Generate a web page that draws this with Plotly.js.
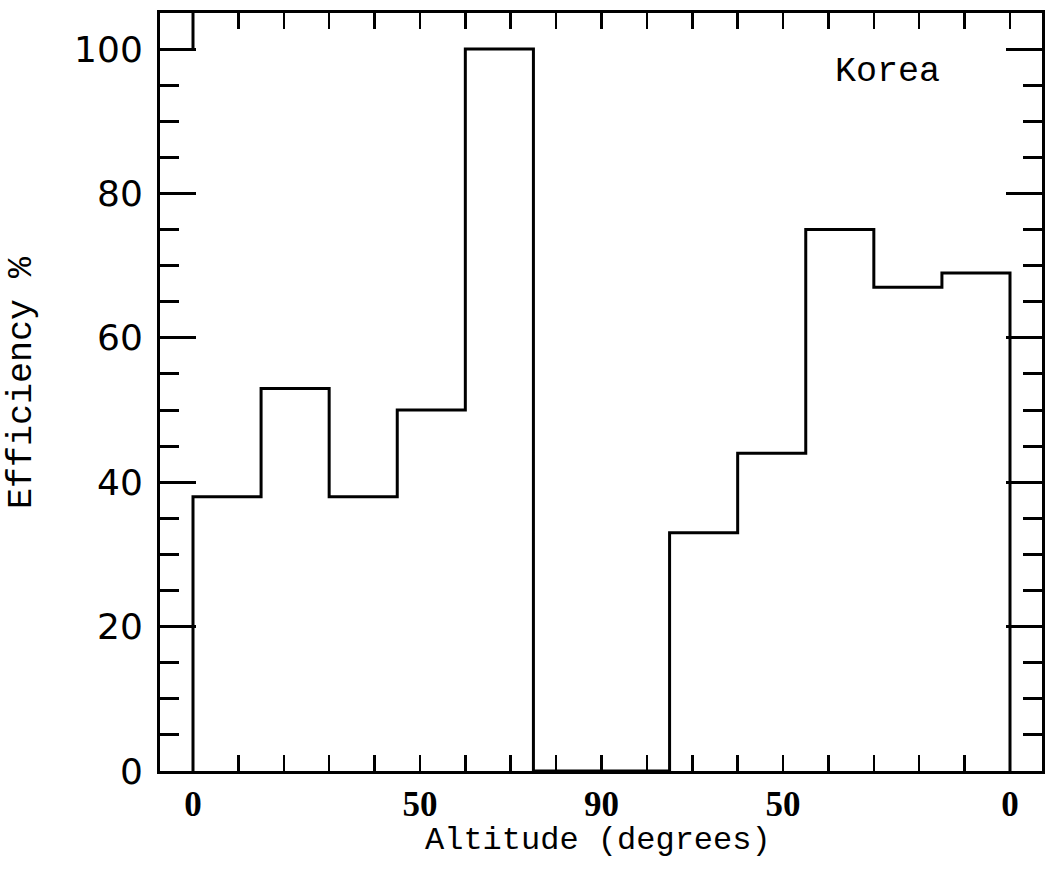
<!DOCTYPE html>
<html><head><meta charset="utf-8">
<script src="https://cdn.plot.ly/plotly-3.0.1.min.js"></script>
<style>html,body{margin:0;padding:0;background:#fff}</style>
</head><body><div id="chart" style="width:1047px;height:870px"></div>
<script>
// Data
const binEdges = [0, 15, 30, 45, 60, 75, 90, 105, 120, 135, 150, 165, 180];
const efficiency = [38, 53, 38, 50, 100, 0, 0, 33, 44, 75, 67, 69];
const tickPositions = [0, 10, 20, 30, 40, 50, 60, 70, 80, 90, 100, 110, 120, 130, 140, 150, 160, 170, 180];
const labelPositions = [0, 50, 90, 130, 180];
const labelTexts = ['0', '50', '90', '50', '0'];
const panelLabel = 'Korea';
const xTitle = 'Altitude (degrees)';
const yTitle = 'Efficiency %';

const monoFont = 'Courier New, Nimbus Mono PS, Nimbus Mono L, Liberation Mono, monospace';

// Build step outline
const xs = [binEdges[0]], ys = [0];
for (let i = 0; i < efficiency.length; i++) { xs.push(binEdges[i]); ys.push(efficiency[i]); }
xs.push(binEdges[binEdges.length - 1]); ys.push(efficiency[efficiency.length - 1]);
xs.push(binEdges[binEdges.length - 1]); ys.push(0);

const tickText = tickPositions.map(p => {
  const k = labelPositions.indexOf(p);
  return k >= 0 ? labelTexts[k] : '';
});

const trace = {
  type: 'scatter', mode: 'lines', x: xs, y: ys,
  line: {shape: 'hv', color: '#000', width: 3},
  hoverinfo: 'skip', showlegend: false
};

const layout = {
  width: 1047, height: 870,
  margin: {l: 160, r: 5, t: 13, b: 99},
  paper_bgcolor: '#fff', plot_bgcolor: '#fff',
  showlegend: false,
  xaxis: {
    range: [-7.27, 187.05], autorange: false,
    tickmode: 'array', tickvals: tickPositions, ticktext: tickText,
    ticks: 'inside', ticklen: 16, tickwidth: 2.5, tickcolor: '#000',
    showline: true, linewidth: 3, linecolor: '#000', mirror: 'ticks',
    showgrid: false, zeroline: false,
    tickfont: {family: 'Liberation Serif', size: 35, color: '#000', weight: 'bold'},
    ticklabelstandoff: 0
  },
  yaxis: {
    range: [0, 105], autorange: false,
    tick0: 0, dtick: 20,
    ticks: 'inside', ticklen: 36, tickwidth: 3, tickcolor: '#000',
    minor: {tick0: 0, dtick: 5, ticks: 'inside', ticklen: 19, tickwidth: 3, tickcolor: '#000', showgrid: false},
    showline: true, linewidth: 3, linecolor: '#000', mirror: 'ticks',
    showgrid: false, zeroline: false,
    tickfont: {family: 'DejaVu Sans', size: 36, color: '#000'},
    ticklabelstandoff: 7
  },
  shapes: [{
    type: 'line', xref: 'x', yref: 'y', x0: 0, x1: 0, y0: 100, y1: 105,
    line: {color: '#000', width: 3}
  }],
  annotations: [
    {xref: 'x', yref: 'y', x: 153, y: 96.8, text: panelLabel, showarrow: false,
     font: {family: monoFont, size: 35, color: '#000'}},
    {xref: 'paper', yref: 'paper', x: 0.497, y: -0.0923, xanchor: 'center', yanchor: 'middle',
     text: xTitle, showarrow: false, font: {family: monoFont, size: 32, color: '#000'}},
    {xref: 'paper', yref: 'paper', x: -0.1565, y: 0.513, xanchor: 'center', yanchor: 'middle',
     text: yTitle, textangle: -90, showarrow: false, font: {family: monoFont, size: 35, color: '#000'}}
  ]
};

Plotly.newPlot('chart', [trace], layout, {staticPlot: true, displayModeBar: false});
</script>
</body></html>
